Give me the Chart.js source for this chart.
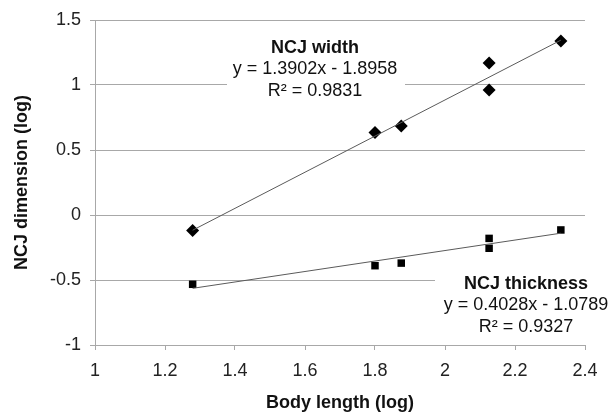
<!DOCTYPE html>
<html>
    <head>
        <meta charset="utf-8"/>
        <title>NCJ dimension vs body length</title>
        <script src="https://cdn.jsdelivr.net/npm/chart.js@4/dist/chart.umd.min.js"></script>
        <style>
            html, body { margin: 0; padding: 0; background: #fff; }
            .chartbox { width: 608px; height: 414px; }
        </style>
    </head>
    <body>
        <div class="chartbox">
            <canvas id="scatter"></canvas>
        </div>
        <script>
            // body length (log) and the two NCJ measures (log)
            var bodyLength   = [1.279, 1.80, 1.875, 2.126, 2.126, 2.331];
            var ncjWidth     = [-0.12, 0.635, 0.685, 1.17, 0.962, 1.338];
            var ncjThickness = [-0.533, -0.39, -0.37, -0.18, -0.256, -0.115];

            // end points of the two trend lines
            var widthFitX = [1.279, 2.331];
            var widthFitY = [-0.117, 1.345];
            var thickFitX = [1.279, 2.331];
            var thickFitY = [-0.564, -0.140];

            var xTickLabels = ['1', '1.2', '1.4', '1.6', '1.8', '2', '2.2', '2.4'];
            var yTickLabels = ['-1', '-0.5', '0', '0.5', '1', '1.5'];

            var widthLabel = ['NCJ width', 'y = 1.3902x - 1.8958', 'R\u00b2 = 0.9831'];
            var thickLabel = ['NCJ thickness', 'y = 0.4028x - 1.0789', 'R\u00b2 = 0.9327'];

            function pts(xs, ys) {
                var out = [];
                for (var i = 0; i < xs.length; i++) {
                    out.push({x: xs[i], y: ys[i]});
                }
                return out;
            }

            var FONT = '"Liberation Sans", Arial, sans-serif';
            var GRID = '#a8a8a8';

            // white boxed equation labels, like the spreadsheet ones
            var eqLabels = {
                id: 'eqLabels',
                beforeDatasetsDraw: function(chart) {
                    var ctx = chart.ctx;
                    ctx.save();
                    ctx.fillStyle = '#fff';
                    ctx.fillRect(227, 36, 178, 66);
                    ctx.fillRect(435, 272, 173, 66);
                    ctx.textAlign = 'center';
                    ctx.textBaseline = 'middle';
                    ctx.fillStyle = '#111';
                    var blocks = [[widthLabel, 315, 48], [thickLabel, 526, 284]];
                    blocks.forEach(function(b) {
                        for (var i = 0; i < b[0].length; i++) {
                            ctx.font = (i === 0 ? 'bold ' : '') + '18px ' + FONT;
                            ctx.fillText(b[0][i], b[1], b[2] + i * 21.5);
                        }
                    });
                    ctx.restore();
                }
            };

            var trend = {
                type: 'line', showLine: true, borderColor: '#5a5a5a', borderWidth: 1,
                pointRadius: 0, fill: false
            };

            var ctx = document.getElementById('scatter').getContext('2d');
            var chart = new Chart(ctx, {
                type: 'scatter',
                data: {
                    datasets: [
                        Object.assign({label: 'width fit', data: pts(widthFitX, widthFitY)}, trend),
                        Object.assign({label: 'thickness fit', data: pts(thickFitX, thickFitY)}, trend),
                        {
                            label: 'NCJ width', data: pts(bodyLength, ncjWidth),
                            pointStyle: 'rectRot', pointRadius: 6.5, pointHoverRadius: 6.5,
                            backgroundColor: '#000', borderColor: '#000', borderWidth: 0
                        },
                        {
                            label: 'NCJ thickness', data: pts(bodyLength, ncjThickness),
                            pointStyle: 'rect', pointRadius: 5.3, pointHoverRadius: 5.3,
                            backgroundColor: '#000', borderColor: '#000', borderWidth: 0
                        }
                    ]
                },
                options: {
                    responsive: true,
                    maintainAspectRatio: false,
                    animation: false,
                    layout: { padding: { top: 20, right: 23, left: 0, bottom: 0 } },
                    plugins: { legend: { display: false }, tooltip: { enabled: false } },
                    scales: {
                        x: {
                            type: 'linear', min: 1, max: 2.4,
                            afterFit: function(s) { s.height = 69; },
                            border: { color: GRID, width: 1 },
                            grid: { drawOnChartArea: false, drawTicks: true, tickLength: 5, color: GRID },
                            ticks: {
                                stepSize: 0.2, padding: 10, color: '#222',
                                font: { family: FONT, size: 18 },
                                callback: function(v, i) { return xTickLabels[i]; }
                            },
                            title: {
                                display: true, text: 'Body length (log)', color: '#111',
                                font: { family: FONT, size: 18, weight: 'bold' },
                                padding: { top: 0, bottom: 0 }
                            }
                        },
                        y: {
                            type: 'linear', min: -1, max: 1.5,
                            afterFit: function(s) { s.width = 95; },
                            border: { color: GRID, width: 1 },
                            grid: { color: GRID, tickLength: 5 },
                            ticks: {
                                stepSize: 0.5, padding: 9, color: '#222',
                                font: { family: FONT, size: 18 },
                                callback: function(v, i) { return yTickLabels[i]; }
                            },
                            title: {
                                display: true, text: 'NCJ dimension (log)', color: '#111',
                                font: { family: FONT, size: 18, weight: 'bold' },
                                padding: { top: 11, bottom: 0 }
                            }
                        }
                    }
                },
                plugins: [eqLabels]
            });
        </script>
    </body>
</html>
